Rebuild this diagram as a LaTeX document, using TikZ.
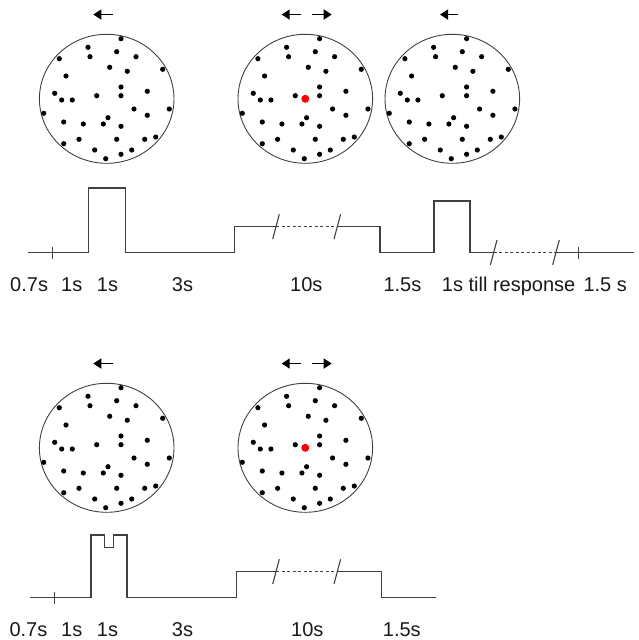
\documentclass[tikz,border=0pt]{standalone}
\usepackage{fontspec}
\setmainfont{Liberation Sans}
\usetikzlibrary{shapes.geometric,arrows.meta}
\begin{document}
\begin{tikzpicture}[x=1pt,y=-1pt,
  ring/.style={ellipse,draw=black!75,line width=0.9pt,minimum width=134.6pt,minimum height=129pt,inner sep=0pt},
  trace/.style={draw=black!75,line width=1.1pt,line join=miter},
  gap/.style={draw=black!75,line width=1pt,dash pattern=on 3pt off 2.5pt},
  slashmark/.style={draw=black!75,line width=1.1pt},
  dir/.style={draw=black,line width=1.5pt,-{Triangle[length=8pt,width=10pt]}},
  lab/.style={anchor=base west,inner sep=0pt,font=\fontsize{20}{24}\selectfont,text=black!90},
  brk/.pic={\draw[slashmark] (-3.3,12.4) -- (3.3,-12.4);},
  tickmark/.pic={\draw[trace] (0,-6) -- (0,6);},
]
\useasboundingbox (0,0) rectangle (639,640);
\def\dotlist{14.3/-60.1, -18.7/-51.5, 10/-47.1, -47.4/-40.1, -16.7/-42.1, 29.3/-42.1, 3/-31.5, 20.6/-27.5, 56/-29.5, -40.7/-22.8, 14.3/-11.8, 40.6/-7.5, -52/-5.5, -45/1.2, -34.4/1.2, -10/-3.1, 14.3/-3.1, 62.6/10.2, 27.3/10.2, -63/14.5, 40.6/16.5, 1.3/18.9, -43/23.2, -23.4/25.2, -3.4/25.2, 14.3/27.5, 49/38.2, 38/40.5, -27.7/40.5, 10/40.5, -43/44.9, -12/51.2, 25/51.2, 14.3/55.5, -1/59.9}

% circles (top row)
\node[ring] (c1) at (106.7,98.8) {};
\node[ring] (c2) at (305.3,98.8) {};
\node[ring] (c3) at (452.3,98.8) {};
% circles (bottom row)
\node[ring] (d1) at (106.7,447.8) {};
\node[ring] (d2) at (305.3,447.8) {};

\foreach \c in {c1,c2,c3,d1,d2}{
  \begin{scope}[shift={(\c.center)}]
    \foreach \dx/\dy in \dotlist { \fill (\dx,\dy) circle[radius=2.6pt]; }
  \end{scope}
}
\fill[red] (c2.center) circle[radius=4pt];
\fill[red] (d2.center) circle[radius=4pt];

% motion arrows
\draw[dir] ([xshift=6pt,yshift=19.3pt]c1.north) -- ([xshift=-13.4pt,yshift=19.3pt]c1.north);
\draw[dir] ([xshift=-4.3pt,yshift=19.3pt]c2.north) -- ([xshift=-23.6pt,yshift=19.3pt]c2.north);
\draw[dir] ([xshift=7pt,yshift=19.3pt]c2.north) -- ([xshift=26.4pt,yshift=19.3pt]c2.north);
\draw[dir] ([xshift=6pt,yshift=19.3pt]c3.north) -- ([xshift=-12.3pt,yshift=19.3pt]c3.north);
\draw[dir] ([xshift=6pt,yshift=19.3pt]d1.north) -- ([xshift=-13.4pt,yshift=19.3pt]d1.north);
\draw[dir] ([xshift=-4.3pt,yshift=19.3pt]d2.north) -- ([xshift=-23.6pt,yshift=19.3pt]d2.north);
\draw[dir] ([xshift=7pt,yshift=19.3pt]d2.north) -- ([xshift=26.4pt,yshift=19.3pt]d2.north);

% top timeline
\draw[trace] (28.3,252.7) -- (88.3,252.7) -- (88.3,188) -- (125.7,188) -- (125.7,252.7)
  -- (234.3,252.7) -- (234.3,226.7) -- (276,226.7);
\draw[gap] (276,226.7) -- (337.3,226.7);
\draw[trace] (337.3,226.7) -- (380,226.7) -- (380,252.7) -- (434,252.7) -- (434,201)
  -- (470,201) -- (470,252.7) -- (493.7,252.7);
\draw[gap] (493.7,252.7) -- (556,252.7);
\draw[trace] (556,252.7) -- (634.3,252.7);
\pic at (52.3,252.7) {tickmark};
\pic at (578.7,252.7) {tickmark};
\pic at (276,226.7) {brk};
\pic at (337.3,226.7) {brk};
\pic at (493.7,252.4) {brk};
\pic at (556,252.4) {brk};

% bottom timeline
\draw[trace] (30,597.7) -- (91,597.7) -- (91,535) -- (104.3,535) -- (104.3,547.7) -- (113.3,547.7)
  -- (113.3,535) -- (127,535) -- (127,597.7) -- (236.3,597.7) -- (236.3,571.7) -- (276,571.7);
\draw[gap] (276,571.7) -- (337.3,571.7);
\draw[trace] (337.3,571.7) -- (381.7,571.7) -- (381.7,597.7) -- (436,597.7);
\pic at (54.3,597.7) {tickmark};
\pic at (276,571.7) {brk};
\pic at (337.3,571.7) {brk};

% top labels
\node[lab] (t1) at (10,291) {0.7s};
\node[lab] (t2) at (61,291) {1s};
\node[lab] (t3) at (96.7,291) {1s};
\node[lab] (t4) at (171.7,291) {3s};
\node[lab] (t5) at (290,291) {10s};
\node[lab] (t6) at (383.3,291) {1.5s};
\node[lab] (t7) at (441.7,291) {1s till response};
\node[lab] (t8) at (583.3,291) {1.5 s};

% bottom labels
\node[lab] (b1) at (9.3,636) {0.7s};
\node[lab] (b2) at (61,636) {1s};
\node[lab] (b3) at (96.7,636) {1s};
\node[lab] (b4) at (171.7,636) {3s};
\node[lab] (b5) at (291,636) {10s};
\node[lab] (b6) at (382.7,636) {1.5s};
\end{tikzpicture}
\end{document}
